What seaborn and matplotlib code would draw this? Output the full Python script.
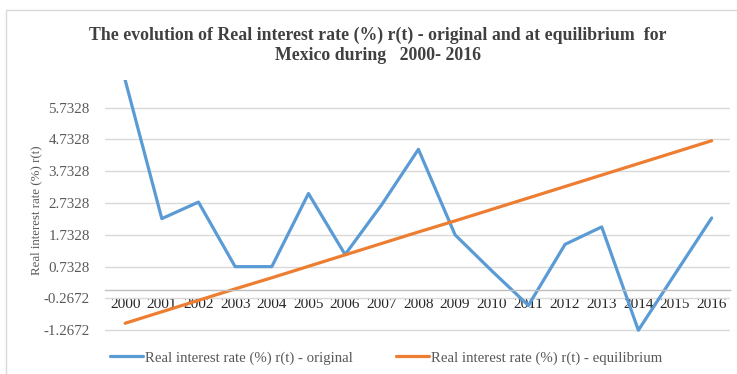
import matplotlib
matplotlib.use("Agg")
import matplotlib.pyplot as plt
import seaborn as sns
import pandas as pd
from matplotlib.patches import Rectangle
from matplotlib.lines import Line2D

years = [str(y) for y in range(2000, 2017)]
original = [6.60, 2.24, 2.76, 0.73, 0.73, 3.03, 1.11, 2.68, 4.42, 1.73,
            0.60, -0.49, 1.43, 1.98, -1.27, 0.50, 2.26]
equilibrium = [-1.05, -0.69, -0.33, 0.03, 0.38, 0.74, 1.10, 1.46, 1.82, 2.17,
               2.53, 2.89, 3.25, 3.61, 3.97, 4.33, 4.69]
yticks = [-1.2672, -0.2672, 0.7328, 1.7328, 2.7328, 3.7328, 4.7328, 5.7328]
label_orig = "Real interest rate (%) r(t) - original"
label_eq = "Real interest rate (%) r(t) - equilibrium"
title = "The evolution of Real interest rate (%) r(t) - original and at equilibrium  for\nMexico during   2000- 2016"

sns.set_theme(style="white")
plt.rcParams['font.family'] = ['Liberation Serif', 'DejaVu Serif']

df = pd.DataFrame({
    "idx": list(range(len(years))) * 2,
    "value": original + equilibrium,
    "series": [label_orig] * len(years) + [label_eq] * len(years),
})

fig = plt.figure(figsize=(7.37, 3.74), dpi=100)
fig.patch.set_facecolor("white")
fig.patches.append(Rectangle((6 / 737, -0.05), 1.0, 1 - 10 / 374 + 0.05,
                             transform=fig.transFigure, fill=False,
                             edgecolor="#d9d9d9", linewidth=1.0))
ax = fig.add_axes([105 / 737, 1 - 335 / 374, 625 / 737, 255 / 374])

sns.lineplot(data=df, x="idx", y="value", hue="series",
             palette=["#5b9bd5", "#ed7d31"], linewidth=2.3, ax=ax,
             legend=False, sort=False)

ax.set_xlim(-0.55, 16.5)
ax.set_ylim(-1.42, 6.6)
ax.set_yticks(yticks)
ax.set_yticklabels([f"{v:.4f}" for v in yticks], color="#595959", fontsize=10.8)
ax.set_xticks(range(len(years)))
ax.set_xticklabels(years, color="#595959", fontsize=10.5)
ax.grid(axis="y", color="#d9d9d9", linewidth=1.0)
ax.set_axisbelow(True)
for s in ["left", "right", "top"]:
    ax.spines[s].set_visible(False)
ax.spines["bottom"].set_position(("data", 0))
ax.spines["bottom"].set_color("#bfbfbf")
ax.spines["bottom"].set_linewidth(1.0)
ax.tick_params(axis="both", length=0)
ax.tick_params(axis="x", pad=6)
ax.tick_params(axis="y", pad=11)
ax.set_xlabel("")
ax.set_ylabel("Real interest rate (%) r(t)", color="#595959", fontsize=9.3)
ax.yaxis.set_label_coords(-0.1, 0.49)

fig.text(378 / 737, 1 - 45 / 374, title, ha="center", va="center",
         fontsize=12.8, fontweight="bold", color="#404040", linespacing=1.25)

handles = [Line2D([], [], color="#5b9bd5", linewidth=2.3),
           Line2D([], [], color="#ed7d31", linewidth=2.3)]
fig.legend(handles, [label_orig, label_eq], loc="center left",
           bbox_to_anchor=(110 / 737, 1 - 358 / 374), ncol=2, frameon=False,
           fontsize=10.7, labelcolor="#595959", handlelength=2.2,
           handletextpad=0.15, columnspacing=2.9, borderpad=0,
           borderaxespad=0)

fig.savefig("out.png", dpi=100)
